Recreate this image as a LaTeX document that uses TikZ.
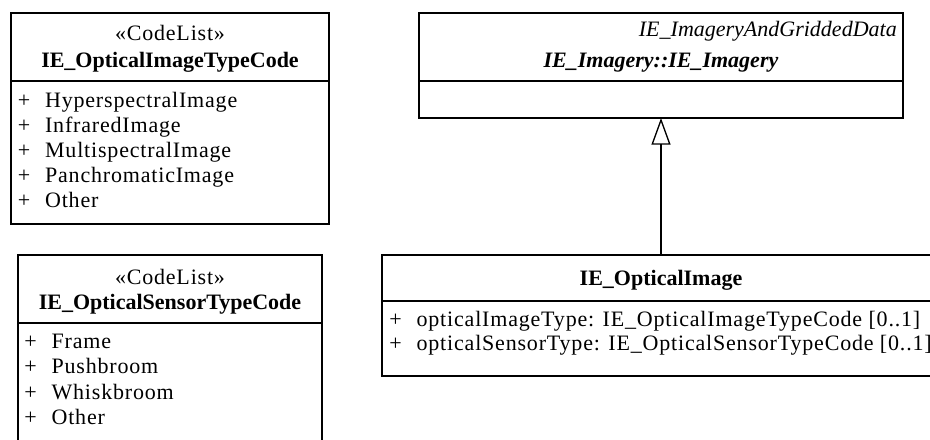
\documentclass[tikz,border=0pt]{standalone}
\usepackage{fontspec}
\setmainfont{Liberation Serif}
\newfontfamily\itemfont{Liberation Serif}[LetterSpace=3.7]
\usetikzlibrary{arrows.meta, positioning}
\newcommand{\attr}[1]{\makebox[20.5pt][l]{+}#1}

\begin{document}
\begin{tikzpicture}[x=0.75pt, y=-0.75pt,
    every node/.style={inner sep=0pt, font=\fontsize{16.5pt}{18.75pt}\selectfont},
    umlbox/.style={draw, rectangle, line width=1.2pt, outer sep=0pt},
    regular/.style={font=\itemfont\fontsize{16.5pt}{18.75pt}\selectfont},
    attrline/.style={regular, anchor=base west}]
        \useasboundingbox (0, 0) rectangle (930, 439);
        \clip (0, 0) rectangle (930, 439);
        \node[umlbox, minimum width=238.5pt, minimum height=158.25pt] (imgcode) at (170, 118.5) {};
        \node[umlbox, minimum width=228pt, minimum height=153.75pt] (sensorcode) at (170, 357.5) {};
        \node[umlbox, minimum width=363pt, minimum height=78.75pt] (imagery) at (661, 65.5) {};
        \node[umlbox, minimum width=418.5pt, minimum height=90.75pt] (optical) at (661, 315.5) {};
        \draw[line width=1.2pt] (imgcode.west |- 0, 81) -- (imgcode.east |- 0, 81);
        \draw[line width=1.2pt] (sensorcode.west |- 0, 323) -- (sensorcode.east |- 0, 323);
        \draw[line width=1.2pt] (imagery.west |- 0, 81) -- (imagery.east |- 0, 81);
        \draw[line width=1.2pt] (optical.west |- 0, 301) -- (optical.east |- 0, 301);
        \node[regular, anchor=base] (imgcode-st) at (170, 40) {«CodeList»};
        \node[anchor=base] (imgcode-name) at (170, 67) {\bfseries IE\_OpticalImageTypeCode};
        \node[attrline] (imgcode-1) at (17.5, 107) {\attr{HyperspectralImage}};
        \node[attrline] (imgcode-2) at (17.5, 132.2) {\attr{InfraredImage}};
        \node[attrline] (imgcode-3) at (17.5, 157.4) {\attr{MultispectralImage}};
        \node[attrline] (imgcode-4) at (17.5, 182.6) {\attr{PanchromaticImage}};
        \node[attrline] (imgcode-5) at (17.5, 207.8) {\attr{Other}};
        \node[regular, anchor=base] (sensorcode-st) at (170, 284) {«CodeList»};
        \node[anchor=base] (sensorcode-name) at (170, 309) {\bfseries IE\_OpticalSensorTypeCode};
        \node[attrline] (sensorcode-1) at (24, 348) {\attr{Frame}};
        \node[attrline] (sensorcode-2) at (24, 373.6) {\attr{Pushbroom}};
        \node[attrline] (sensorcode-3) at (24, 399.2) {\attr{Whiskbroom}};
        \node[attrline] (sensorcode-4) at (24, 424.8) {\attr{Other}};
        \node[anchor=base east] (imagery-pkg) at (897, 36) {\itshape IE\_ImageryAndGriddedData};
        \node[anchor=base] (imagery-name) at (661, 67) {\bfseries\itshape IE\_Imagery::IE\_Imagery};
        \node[anchor=base] (optical-name) at (661, 285) {\bfseries IE\_OpticalImage};
        \node[attrline] (optical-1) at (389, 326) {\attr{opticalImageType: IE\_OpticalImageTypeCode [0..1]}};
        \node[attrline] (optical-2) at (389, 350) {\attr{opticalSensorType: IE\_OpticalSensorTypeCode [0..1]}};
        \draw[line width=1pt, -{Triangle[open, length=20pt, width=14.25pt]}] (optical) -- (imagery);
      \end{tikzpicture}
\end{document}
